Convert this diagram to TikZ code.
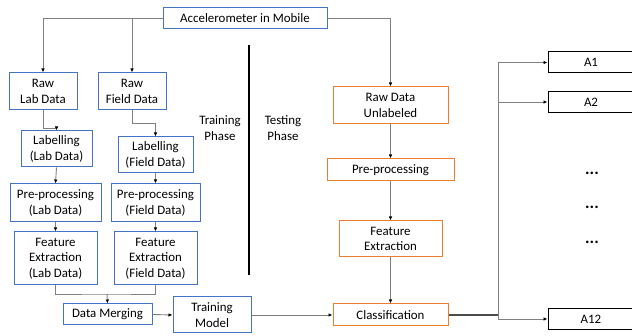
\documentclass[tikz,border=0pt]{standalone}
\usepackage{fontspec}
\setmainfont{Carlito}
\usetikzlibrary{arrows.meta}

\definecolor{boxblue}{HTML}{4472C4}
\definecolor{boxorange}{HTML}{ED7D31}
\definecolor{linegray}{HTML}{808080}

\begin{document}
\begin{tikzpicture}[x=1pt,y=-1pt,>={Latex[length=4pt,width=3.5pt,black]},
                    line width=0.9pt,font=\fontsize{12.9}{15.5}\selectfont]
  \tikzstyle{blue box}=[draw=boxblue,line width=1pt,align=center,inner sep=0pt,fill=white]
  \tikzstyle{orange box}=[draw=boxorange,line width=1pt,align=center,inner sep=0pt,fill=white]
  \tikzstyle{class box}=[draw=black,line width=1pt,inner sep=0pt,minimum width=86pt,minimum height=21pt]
  \tikzstyle{link}=[draw=linegray]

  \useasboundingbox (0,0) rectangle (632,336);

  % training side
  \node[blue box,minimum width=164pt,minimum height=21pt] (acc)       at (245,18.5)  {Accelerometer in Mobile};
  \node[blue box,minimum width=68pt,minimum height=37pt]  (rawlab)    at (43,91.5)   {Raw\\Lab Data};
  \node[blue box,minimum width=68pt,minimum height=37pt]  (rawfield)  at (132,91.5)  {Raw\\Field Data};
  \node[blue box,minimum width=71pt,minimum height=36pt]  (lablab)    at (56.5,149)  {Labelling\\(Lab Data)};
  \node[blue box,minimum width=75pt,minimum height=36pt]  (labfield)  at (155.5,155) {Labelling\\(Field Data)};
  \node[blue box,minimum width=91pt,minimum height=38pt]  (prelab)    at (55.5,203)  {Pre-processing\\(Lab Data)};
  \node[blue box,minimum width=89pt,minimum height=38pt]  (prefield)  at (155.5,203) {Pre-processing\\(Field Data)};
  \node[blue box,minimum width=83pt,minimum height=53pt]  (featlab)   at (55.5,258.5)  {Feature\\Extraction\\(Lab Data)};
  \node[blue box,minimum width=83pt,minimum height=53pt]  (featfield) at (155.5,258.5) {Feature\\Extraction\\(Field Data)};
  \node[blue box,minimum width=89pt,minimum height=21pt]  (merge)     at (107.5,314.5) {Data Merging};
  \node[blue box,minimum width=78pt,minimum height=36pt]  (train)     at (212,315)   {Training\\Model};

  % phases
  \node[align=center] (trainph) at (220,128) {Training\\Phase};
  \node[align=center] (testph)  at (283,128) {Testing\\Phase};
  \draw[black,line width=1.3pt] (249,45) -- (249,275);

  % testing side
  \node[orange box,minimum width=115pt,minimum height=37pt] (rawun)  at (390.5,105.5) {Raw Data\\Unlabeled};
  \node[orange box,minimum width=127pt,minimum height=22pt] (preun)  at (390.5,170)   {Pre-processing};
  \node[orange box,minimum width=103pt,minimum height=36pt] (featun) at (390.5,239)   {Feature\\Extraction};
  \node[orange box,minimum width=115pt,minimum height=22pt] (cls)    at (390.5,315)   {Classification};

  % activities
  \node[class box] (a1)  at (591,62.5) {A1};
  \node[class box] (a2)  at (591,102)  {A2};
  \node[class box] (a12) at (591,319)  {A12};
  \node[font=\fontsize{17}{17}\selectfont] (dots1) at (592,173) {\textbf{...}};
  \node[font=\fontsize{17}{17}\selectfont] (dots2) at (592,207) {\textbf{...}};
  \node[font=\fontsize{17}{17}\selectfont] (dots3) at (592,242) {\textbf{...}};

  \coordinate (joint) at (107,294);
  \coordinate (bus)   at (498,315);

  \draw[link,->] (acc.west) -| (rawlab.north);
  \draw[link,->] (acc.west) -| (rawfield.north);
  \draw[link,->] (acc.east) -| (rawun.north);

  \draw[link,->] (rawlab.south) -- ++(0,18) -| (lablab.north);
  \draw[link,->] (rawfield.south) -- ++(0,13) -| (labfield.north);
  \draw[link,->] (lablab.south) -- (prelab.north);
  \draw[link,->] (labfield.south) -- (prefield.north);
  \draw[link,->] (prelab.south) -- (featlab.north);
  \draw[link,->] (prefield.south) -- (featfield.north);
  \draw[link] (featlab.south) |- (joint) -| (featfield.south);
  \draw[link,->] (joint) -- (merge.north);
  \draw[link,->] (merge.east) -- (train.west);
  \draw[link,->] (train.east) -- (cls.west);

  \draw[link,->] (rawun.south) -- (preun.north);
  \draw[link,->] (preun.south) -- (featun.north);
  \draw[link,->] (featun.south) -- (cls.north);

  \draw[draw=black!70,line width=1.3pt] (cls.east) -- (bus);
  \draw[link,->] (bus) |- (a1.west);
  \draw[link,->] (bus) |- (a2.west);
  \draw[link,->] (bus) |- (a12.west);
\end{tikzpicture}
\end{document}
